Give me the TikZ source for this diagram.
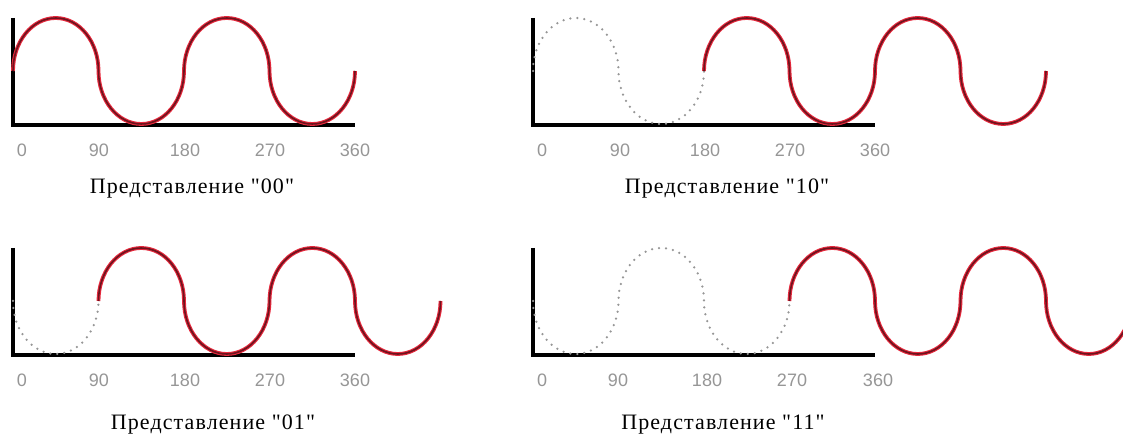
\documentclass[tikz,border=0pt]{standalone}
\usepackage{fontspec}
\newfontfamily\capfont{Liberation Serif}[LetterSpace=5]
\newfontfamily\ticksfont{Liberation Sans}
\usetikzlibrary{positioning}

\definecolor{wavered}{RGB}{230,40,60}
\definecolor{wavecore}{RGB}{110,20,30}
\definecolor{tickgray}{RGB}{150,150,150}
\definecolor{ghostgray}{RGB}{150,150,150}

% half a period of the carrier
\newcommand\hrx{42.75}
\newcommand\hry{53}

\begin{document}
\begin{tikzpicture}[x=1pt, y=1pt,
    axis/.style={line width=3.5pt, black},
    signal/.style={draw=wavered, line width=1.1pt, double=wavecore, double distance=1.6pt},
    ghost/.style={ghostgray, line width=2.5pt, line cap=round, dash pattern=on 0pt off 7pt},
    hump/.style={x radius=\hrx, y radius=\hry, start angle=180},
    tick/.style={font=\ticksfont\fontsize{18}{18}\selectfont, text=tickgray, inner sep=0pt},
    caption/.style={font=\capfont\fontsize{22}{26}\selectfont, inner sep=0pt}
  ]
  \clip (0,0) rectangle (1123,441);
  \fill[white] (0,0) rectangle (1123,441);

  % "00"
  \begin{scope}[shift={(13,316)}]
    \draw[axis] (0,107) -- (0,0) -- (342,0);
    \draw[signal] (0,54) \foreach \e in {0,360,0,360} {arc[hump, end angle=\e]};
    \foreach \v/\x in {0/9, 90/86, 180/172, 270/257, 360/342}
      \node[tick] (t00-\v) at (\x,-25) {\v};
    \node[caption] (cap00) at (179,-64) {Представление "00"};
  \end{scope}

  % "10"
  \begin{scope}[shift={(533,316)}]
    \draw[axis] (0,107) -- (0,0) -- (342,0);
    \draw[ghost] (0,54) \foreach \e in {0,360} {arc[hump, end angle=\e]};
    \draw[signal] (171,54) \foreach \e in {0,360,0,360} {arc[hump, end angle=\e]};
    \foreach \v/\x in {0/9, 90/87, 180/172, 270/257, 360/342}
      \node[tick] (t10-\v) at (\x,-25) {\v};
    \node[caption] (cap10) at (194,-64) {Представление "10"};
  \end{scope}

  % "01"
  \begin{scope}[shift={(13,86)}]
    \draw[axis] (0,107) -- (0,0) -- (342,0);
    \draw[ghost] (0,54) arc[hump, end angle=360];
    \draw[signal] (85.5,54) \foreach \e in {0,360,0,360} {arc[hump, end angle=\e]};
    \foreach \v/\x in {0/9, 90/86, 180/172, 270/257, 360/342}
      \node[tick] (t01-\v) at (\x,-25) {\v};
    \node[caption] (cap01) at (200,-70) {Представление "01"};
  \end{scope}

  % "11"
  \begin{scope}[shift={(533,86)}]
    \draw[axis] (0,107) -- (0,0) -- (342,0);
    \draw[ghost] (0,54) \foreach \e in {360,0,360} {arc[hump, end angle=\e]};
    \draw[signal] (256.5,54) \foreach \e in {0,360,0,360} {arc[hump, end angle=\e]};
    \foreach \v/\x in {0/9, 90/85, 180/174, 270/259, 360/345}
      \node[tick] (t11-\v) at (\x,-25) {\v};
    \node[caption] (cap11) at (190,-70) {Представление "11"};
  \end{scope}
\end{tikzpicture}
\end{document}
